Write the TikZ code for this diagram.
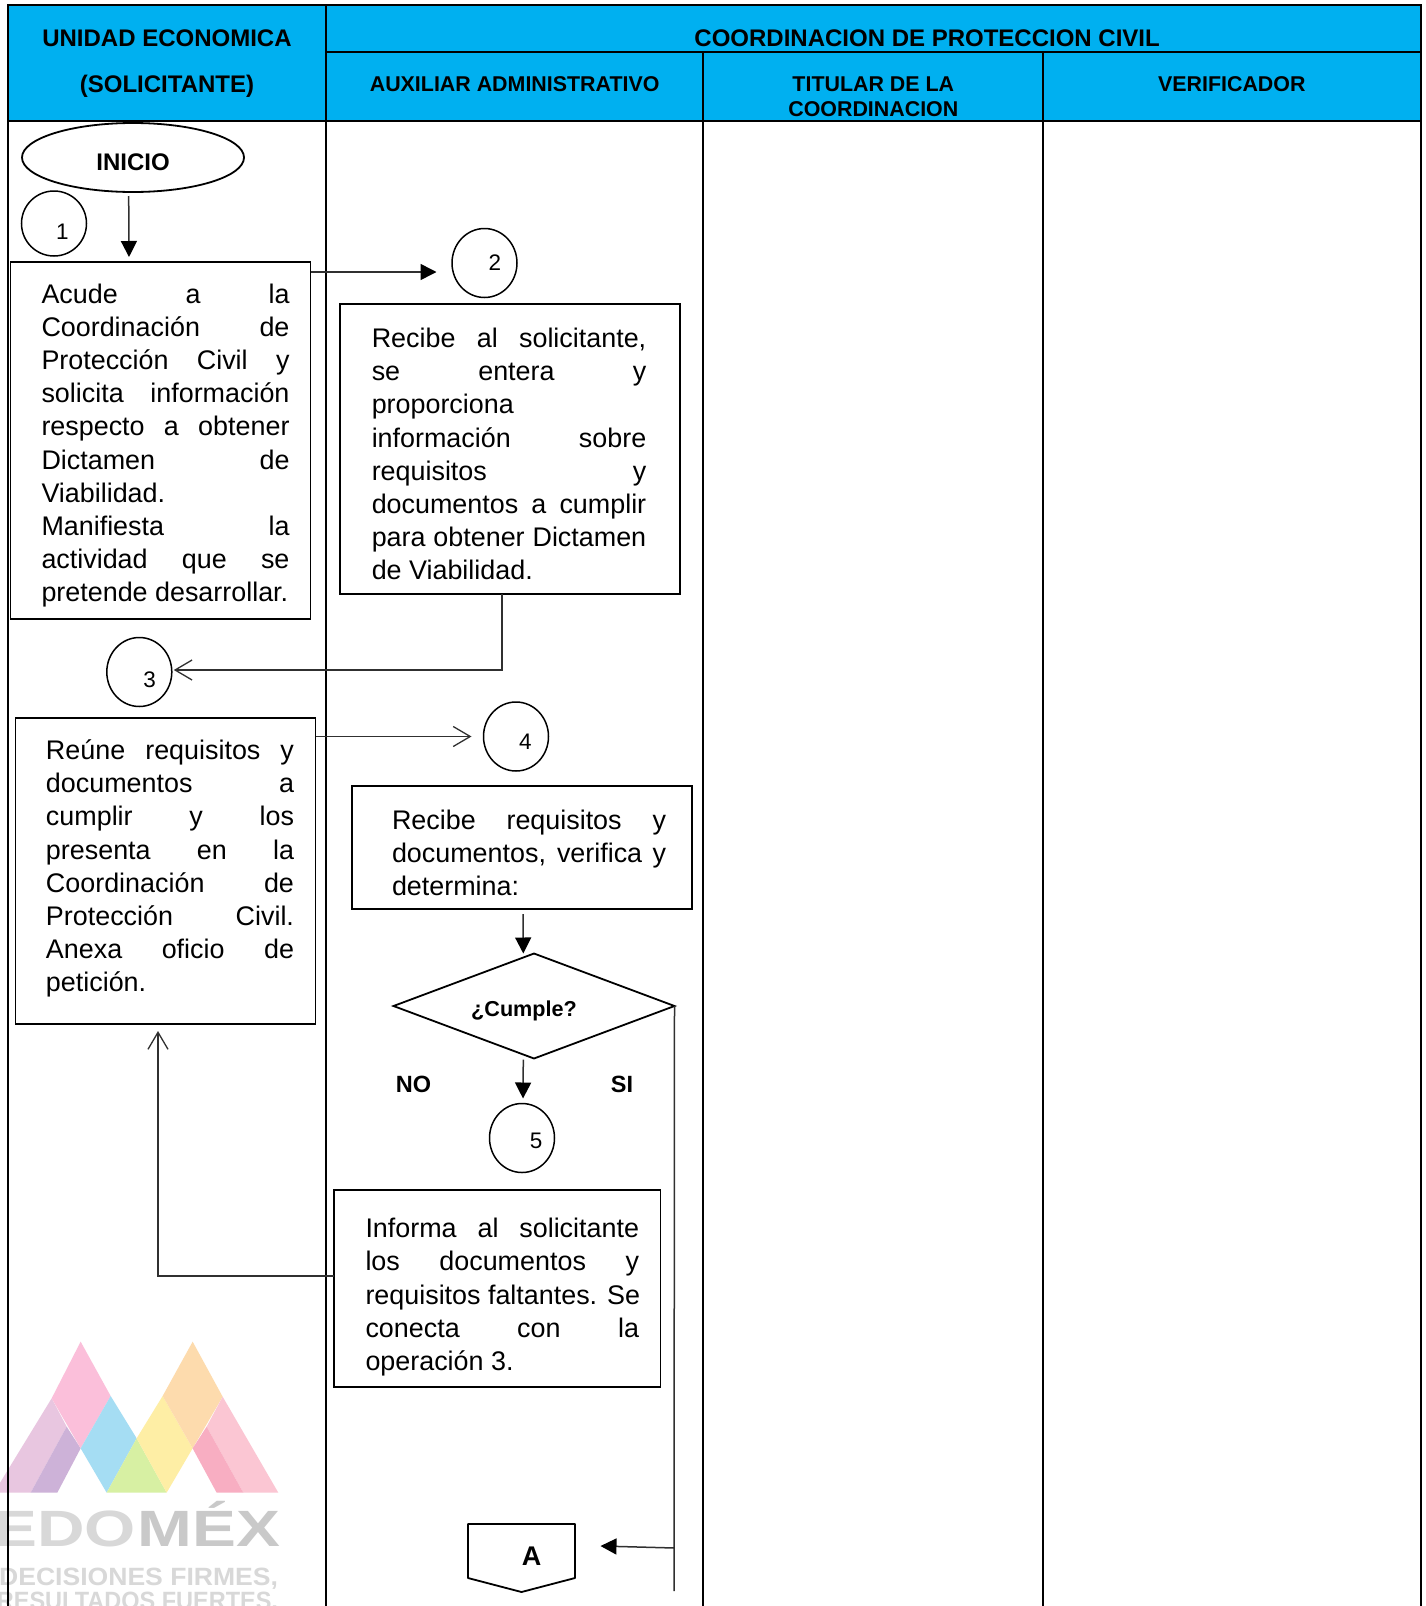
\documentclass[tikz,border=0pt]{standalone}
\usepackage{fontspec}
\setmainfont{Liberation Sans}
\usetikzlibrary{arrows.meta,calc,shapes.geometric}
\newlength{\colw}
\newcommand{\jl}[1]{\hbox to \colw{\spaceskip=.278em plus 1fil\relax #1}}
\newcommand{\lft}[1]{\hbox{#1}}
\newcommand{\para}[4]{\colw=#3pt\hbox{\kern #1pt\kern #1pt\vbox{\kern #2pt\kern #2pt\baselineskip=33.2pt\lineskiplimit=-50pt\hsize=\colw #4}}}
\newcommand{\off}[3]{\raisebox{\dimexpr #2pt-0.36em\relax}[0pt][0pt]{\makebox[0pt]{\hspace*{#1pt}\hspace*{#1pt}#3}}}
\tikzset{
 x=1pt,y=-1pt,
 every node/.style={inner sep=0pt,outer sep=0pt},
 cell/.style={draw=black,line width=2pt,rectangle,anchor=north west},
 hdr/.style={cell,fill=headblue,font=\fontsize{24}{28}\selectfont\bfseries},
 sub/.style={cell,fill=headblue,font=\fontsize{21.4}{25}\selectfont\bfseries},
 textbox/.style={draw=black,line width=1.8pt,rectangle,anchor=north west,font=\fontsize{26.9}{33.2}\selectfont},
 numcirc/.style={draw=black,line width=1.5pt,ellipse,minimum width=65pt,minimum height=69pt,font=\fontsize{22.5}{26}\selectfont},
 boldlabel/.style={font=\fontsize{23.5}{26}\selectfont\bfseries},
 solidarrow/.style={draw=linegray,line width=1.5pt,-{Triangle[length=16pt,width=16pt,color=black]}},
 openarrow/.style={draw=linegray,line width=1.3pt,-{Straight Barb[length=17pt,width=20pt,line width=1.3pt]}},
 plainline/.style={draw=linegray,line width=1.5pt},
 logotext/.style={font=\bfseries,anchor=base east},
}
\definecolor{headblue}{HTML}{00B0F0}
\definecolor{linegray}{HTML}{303030}
\definecolor{lgpink}{HTML}{FBBFDA}
\definecolor{lglil}{HTML}{E8C6E0}
\definecolor{lgdlil}{HTML}{CDB2D8}
\definecolor{lgblue}{HTML}{A5DDF3}
\definecolor{lggreen}{HTML}{D7F0A3}
\definecolor{lgyel}{HTML}{FEEEA5}
\definecolor{lgora}{HTML}{FDDBAD}
\definecolor{lgrose}{HTML}{FBC6D3}
\definecolor{lgdrose}{HTML}{F8AEC2}
\definecolor{lgtxta}{HTML}{D8D8D8}
\definecolor{lgtxtb}{HTML}{C9C9C9}
\begin{document}
\begin{tikzpicture}
\useasboundingbox (0,0) rectangle (1426,1606);
\fill[white] (0,0) rectangle (1426,1606);
% watermark
\begin{scope}
\clip (0,0) rectangle (1426,1606);
\begin{scope}[x=0.3333pt,y=-0.3333pt,yshift=-1300pt]
\fill[lglil] (155,295)--(200,380)--(92,578)--(-18,578)--cycle;
\fill[lgdlil] (200,380)--(242,445)--(172,578)--(92,578)--cycle;
\fill[lgpink] (242,125)--(332,288)--(242,445)--(155,295)--cycle;
\fill[lgblue] (332,288)--(410,415)--(320,578)--(242,445)--cycle;
\fill[lggreen] (410,415)--(500,578)--(320,578)--cycle;
\fill[lgyel] (488,288)--(578,445)--(500,578)--(410,415)--cycle;
\fill[lgora] (578,125)--(668,290)--(578,445)--(488,288)--cycle;
\fill[lgrose] (668,290)--(835,578)--(730,578)--(620,380)--cycle;
\fill[lgdrose] (620,380)--(730,578)--(650,578)--(578,445)--cycle;
\end{scope}
\node[logotext,text=lgtxtb] (logob) at (280,1546) {\fontsize{51}{51}\selectfont\scalebox{1.29}[1]{MÉX}};
\node[logotext,text=lgtxta] (logoa) at (136,1546) {\fontsize{51}{51}\selectfont\scalebox{1.29}[1]{EDO}};
\node[logotext,text=lgtxta] (logoc) at (278,1585) {\fontsize{25}{25}\selectfont\scalebox{1.062}[1]{DECISIONES FIRMES,}};
\node[logotext,text=lgtxta] (logod) at (278,1609) {\fontsize{25}{25}\selectfont\scalebox{0.94}[1]{RESULTADOS FUERTES,}};
\end{scope}
% lanes
\begin{scope}
\clip (0,0) rectangle (1426,1606);
\node[cell,minimum width=318pt,minimum height=1500pt] (lane0) at (8,121) {};
\node[cell,minimum width=377.3pt,minimum height=1500pt] (lane1) at (326,121) {};
\node[cell,minimum width=340pt,minimum height=1500pt] (lane2) at (703.3,121) {};
\node[cell,minimum width=378pt,minimum height=1500pt] (lane3) at (1043.3,121) {};
\end{scope}
% header
\node[hdr,minimum width=318pt,minimum height=116pt] (h0) at (8,5) {\off{0}{25.5}{UNIDAD ECONOMICA}\off{0}{-21}{(SOLICITANTE)}};
\node[hdr,minimum width=1095.3pt,minimum height=47pt] (h1) at (326,5) {\off{53.5}{-9.5}{COORDINACION DE PROTECCION CIVIL}};
\node[sub,minimum width=377.3pt,minimum height=69pt] (h2) at (326,52) {\off{0}{3}{AUXILIAR ADMINISTRATIVO}};
\node[sub,minimum width=340pt,minimum height=69pt] (h3) at (703.3,52) {\off{0}{3}{TITULAR DE LA}\off{0}{-22}{COORDINACION}};
\node[sub,minimum width=378pt,minimum height=69pt] (h4) at (1043.3,52) {\off{-0.5}{3}{VERIFICADOR}};
% shapes
\node[draw=black,line width=1.8pt,ellipse,minimum width=222pt,minimum height=69pt,font=\fontsize{24}{28}\selectfont\bfseries] (ini) at (133,157.5) {\off{0}{-4}{INICIO}};
\node[numcirc,minimum height=65pt] (c1) at (54,223.5) {\off{8.5}{-8}{1}};
\node[numcirc] (c2) at (484.5,263) {\off{10.5}{1}{2}};
\node[numcirc] (c3) at (139.3,672) {\off{10.3}{-7}{3}};
\node[numcirc] (c4) at (516,736.5) {\off{9.5}{-5}{4}};
\node[numcirc] (c5) at (522,1138) {\off{14}{-2}{5}};
\node[textbox,minimum width=300pt,minimum height=357pt] (b1) at (10.5,262) {\para{5}{5}{248}{%
\jl{Acude a la}\jl{Coordinación de}\jl{Protección Civil y}\jl{solicita información}\jl{respecto a obtener}\jl{Dictamen de}\lft{Viabilidad.}\jl{Manifiesta la}\jl{actividad que se}\lft{pretende desarrollar.}}};
\node[textbox,minimum width=340pt,minimum height=290pt] (b2) at (340,304) {\para{-1}{5}{274.5}{%
\jl{Recibe al solicitante,}\jl{se entera y}\lft{proporciona}\jl{información sobre}\jl{requisitos y}\jl{documentos a cumplir}\jl{para obtener Dictamen}\lft{de Viabilidad.}}};
\node[textbox,minimum width=300pt,minimum height=306pt] (b3) at (15.5,718) {\para{4.5}{-2.5}{248}{%
\jl{Reúne requisitos y}\jl{documentos a}\jl{cumplir y los}\jl{presenta en la}\jl{Coordinación de}\jl{Protección Civil.}\jl{Anexa oficio de}\lft{petición.}}};
\node[textbox,minimum width=340pt,minimum height=123pt] (b4) at (352,786) {\para{7}{5.5}{274}{%
\jl{Recibe requisitos y}\jl{documentos, verifica y}\lft{determina:}}};
\node[textbox,minimum width=326.5pt,minimum height=197pt] (b5) at (334,1190) {\para{5}{8.7}{273.5}{%
\jl{Informa al solicitante}\jl{los documentos y}\jl{requisitos faltantes. Se}\jl{conecta con la}\lft{operación 3.}}};
\node[draw=black,line width=1.8pt,diamond,aspect=2.7,minimum width=281pt,minimum height=105pt,font=\fontsize{21.6}{25}\selectfont\bfseries] (dec) at (534,1006) {\off{-10}{-3}{¿Cumple?}};
\node[boldlabel] (no) at (413.5,1084) {\off{0}{0}{NO}};
\node[boldlabel] (si) at (622,1084) {\off{0}{0}{SI}};
\node[minimum width=107pt,minimum height=54pt,anchor=north west,font=\fontsize{27}{30}\selectfont\bfseries] (offp) at (468,1524) {\off{10}{-5}{A}};
\draw[line width=1.8pt,line join=round] (offp.north west)--(offp.north east)--(offp.south east)--($(offp.south)+(0,14)$)--(offp.south west)--cycle;
% connectors
\draw[solidarrow] ($(ini.south)+(-4.3,4)$) -- ($(b1.north)+(-31.5,-5)$);
\draw[solidarrow] ($(b1.east)+(0,-168.5)$) -- ($(c2.west)+(-15.5,9)$);
\draw[openarrow] ($(b2.south)+(-8,0)$) |- ($(c3.east)+(2,-2)$);
\draw[openarrow] ($(b3.east)+(0,-134.5)$) -- ($(c4.west)+(-12,0)$);
\draw[solidarrow] ($(b4.south)+(1,5)$) -- ($(dec.north)+(-10.7,0)$);
\draw[solidarrow] ($(dec.south)+(-10.7,1)$) -- ($(c5.north)+(1,-5)$);
\draw[openarrow] ($(b5.west)+(0,-12.5)$) -| ($(b3.south)+(-7.5,7)$);
\coordinate (ffree) at (674,1591);
\coordinate (jn) at (674.5,1548);
\draw[plainline] (dec.east) -- (ffree);
\draw[solidarrow] (jn) -- ($(offp.east)+(25.5,-5)$);
\end{tikzpicture}
\end{document}
